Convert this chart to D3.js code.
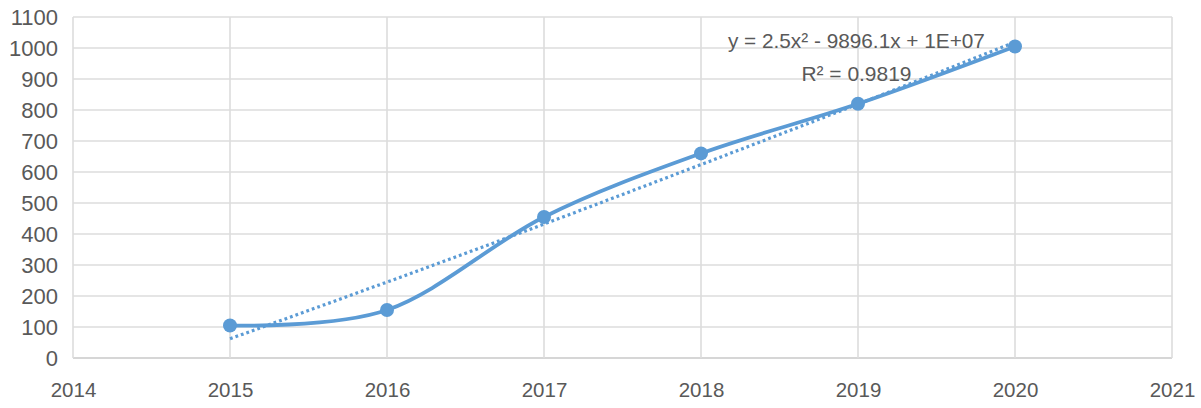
<!DOCTYPE html>
<html>
<head>
<meta charset="utf-8">
<script src="https://cdn.jsdelivr.net/npm/d3@7"></script>
<style>
  body { margin: 0; background: #fff; }
  svg { display: block; }
</style>
</head>
<body>
<div id="chart"></div>
<script>
const years = [2015, 2016, 2017, 2018, 2019, 2020];
const values = [105, 155, 455, 660, 820, 1005];
const trendValues = [62, 245, 432, 624, 819, 1019];
const xTicks = [2014, 2015, 2016, 2017, 2018, 2019, 2020, 2021];
const yTicks = [0, 100, 200, 300, 400, 500, 600, 700, 800, 900, 1000, 1100];
const equationLabel = 'y = 2.5x² - 9896.1x + 1E+07';
const r2Label = 'R² = 0.9819';

const outerWidth = 1201;
const outerHeight = 408;
const margin = {top: 17, right: 29, bottom: 50, left: 73};
const width = outerWidth - margin.left - margin.right;
const height = outerHeight - margin.top - margin.bottom;

const blue = '#5b9bd5';
const textColor = '#595959';

const svg = d3.select('#chart')
  .append('svg')
  .attr('width', outerWidth)
  .attr('height', outerHeight)
  .append('g')
  .attr('transform', 'translate(' + margin.left + ',' + margin.top + ')');

const x = d3.scaleLinear().domain([2014, 2021]).range([0, width]);
const y = d3.scaleLinear().domain([0, 1100]).range([height, 0]);

// grid
svg.append('g')
  .selectAll('line')
  .data(yTicks)
  .enter()
  .append('line')
  .attr('x1', 0)
  .attr('x2', width)
  .attr('y1', d => y(d))
  .attr('y2', d => y(d))
  .attr('stroke', d => d === 0 ? '#c8c8c8' : '#dcdcdc')
  .attr('stroke-width', 1.6);

svg.append('g')
  .selectAll('line')
  .data(xTicks)
  .enter()
  .append('line')
  .attr('x1', d => x(d))
  .attr('x2', d => x(d))
  .attr('y1', 0)
  .attr('y2', height)
  .attr('stroke', '#dcdcdc')
  .attr('stroke-width', 1.6);

// axes labels
svg.append('g')
  .call(d3.axisLeft(y).tickValues(yTicks).tickFormat(d3.format('d')).tickSize(0).tickPadding(15))
  .call(g => g.select('.domain').remove())
  .call(g => g.selectAll('text')
    .attr('fill', textColor)
    .attr('font-family', 'Liberation Sans, Arial, sans-serif')
    .attr('font-size', '22px'));

svg.append('g')
  .attr('transform', 'translate(0,' + height + ')')
  .call(d3.axisBottom(x).tickValues(xTicks).tickFormat(d3.format('d')).tickSize(0).tickPadding(24))
  .call(g => g.select('.domain').remove())
  .call(g => g.selectAll('text')
    .attr('fill', textColor)
    .attr('font-family', 'Liberation Sans, Arial, sans-serif')
    .attr('font-size', '20.5px'));

const points = years.map((yr, i) => ({year: yr, value: values[i], trend: trendValues[i]}));

// trendline
const trendLine = d3.line()
  .x(d => x(d.year))
  .y(d => y(d.trend))
  .curve(d3.curveNatural);

svg.append('path')
  .datum(points)
  .attr('fill', 'none')
  .attr('stroke', blue)
  .attr('stroke-width', 3.2)
  .attr('stroke-dasharray', '2.8,3')
  .attr('d', trendLine);

// data line
const line = d3.line()
  .x(d => x(d.year))
  .y(d => y(d.value))
  .curve(d3.curveCardinal.tension(0));

svg.append('path')
  .datum(points)
  .attr('fill', 'none')
  .attr('stroke', blue)
  .attr('stroke-width', 3.8)
  .attr('stroke-linejoin', 'round')
  .attr('stroke-linecap', 'round')
  .attr('d', line);

svg.append('g')
  .selectAll('circle')
  .data(points)
  .enter()
  .append('circle')
  .attr('cx', d => x(d.year))
  .attr('cy', d => y(d.value))
  .attr('r', 7)
  .attr('fill', blue);

// trendline label
const label = svg.append('g')
  .attr('fill', textColor)
  .attr('font-family', 'Liberation Sans, Arial, sans-serif')
  .attr('font-size', '21px')
  .attr('text-anchor', 'middle');

label.append('text')
  .attr('x', x(2018.99))
  .attr('y', y(1000))
  .attr('textLength', 257)
  .attr('lengthAdjust', 'spacingAndGlyphs')
  .text(equationLabel);

label.append('text')
  .attr('x', x(2018.99))
  .attr('y', y(895))
  .attr('textLength', 110)
  .attr('lengthAdjust', 'spacingAndGlyphs')
  .text(r2Label);
</script>
</body>
</html>
